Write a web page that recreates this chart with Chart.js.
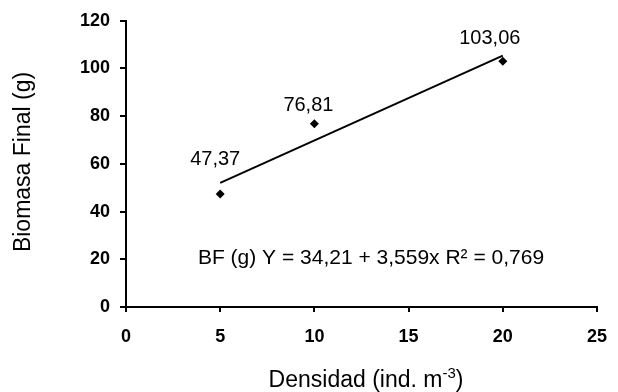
<!DOCTYPE html>
<html>
<head>
<meta charset="utf-8">
<script src="https://cdn.jsdelivr.net/npm/chart.js@4"></script>
<style>
  body { margin: 0; background: #fff; }
  canvas { display: block; }
</style>
</head>
<body>
<canvas id="grafica" width="618" height="392"></canvas>
<script>
const densidad = [5, 10, 20]
const biomasa = [47.37, 76.81, 103.06]
const etiquetas = ['47,37', '76,81', '103,06']
const tendenciaX = [5, 20]
const tendenciaY = [52.01, 105.39]
const ecuacion = 'BF (g) Y = 34,21 + 3,559x R² = 0,769'
const ticksX = [0, 5, 10, 15, 20, 25]
const ticksY = [0, 20, 40, 60, 80, 100, 120]

// desplazamiento de cada etiqueta respecto a su punto (px)
const desplazEtiquetas = [[-5, -29], [-6, -13], [-13, -17]]

const fuente = '"Liberation Sans", Arial, sans-serif'

const textosExtra = {
    id: 'textosExtra',
    afterDatasetsDraw(chart) {
        const { ctx, chartArea, scales } = chart
        ctx.save()
        ctx.fillStyle = '#000'
        ctx.textAlign = 'center'
        ctx.textBaseline = 'alphabetic'

        // etiquetas de los puntos
        ctx.font = '20px ' + fuente
        densidad.forEach((d, i) => {
            const px = scales.x.getPixelForValue(d) + desplazEtiquetas[i][0]
            const py = scales.y.getPixelForValue(biomasa[i]) + desplazEtiquetas[i][1]
            ctx.fillText(etiquetas[i], px, py)
        })

        // ecuacion de la regresion
        ctx.font = '21px ' + fuente
        ctx.fillText(ecuacion, 371, chartArea.bottom - 43)

        // titulo eje x con superindice
        ctx.font = '23px ' + fuente
        const base = 'Densidad (ind. m'
        const sup = '-3'
        const cierre = ')'
        const wBase = ctx.measureText(base).width
        const wCierre = ctx.measureText(cierre).width
        ctx.font = '15px ' + fuente
        const wSup = ctx.measureText(sup).width
        const total = wBase + wSup + wCierre
        let x0 = 366 - total / 2
        const yBase = 387
        ctx.textAlign = 'left'
        ctx.font = '23px ' + fuente
        ctx.fillText(base, x0, yBase)
        ctx.font = '15px ' + fuente
        ctx.fillText(sup, x0 + wBase, yBase - 9)
        ctx.font = '23px ' + fuente
        ctx.fillText(cierre, x0 + wBase + wSup, yBase)

        // titulo eje y
        ctx.translate(30, 162)
        ctx.rotate(-Math.PI / 2)
        ctx.textAlign = 'center'
        ctx.fillText('Biomasa Final (g)', 0, 0)
        ctx.restore()
    }
}

new Chart(document.getElementById('grafica'), {
    type: 'scatter',
    data: {
        datasets: [
            {
                label: 'Biomasa',
                data: densidad.map((d, i) => ({ x: d, y: biomasa[i] })),
                pointStyle: 'rectRot',
                pointRadius: 4.5,
                backgroundColor: '#000',
                borderColor: '#000',
                borderWidth: 0
            },
            {
                type: 'line',
                label: 'Tendencia',
                data: tendenciaX.map((d, i) => ({ x: d, y: tendenciaY[i] })),
                borderColor: '#000',
                borderWidth: 2,
                pointRadius: 0,
                fill: false
            }
        ]
    },
    options: {
        responsive: false,
        animation: false,
        layout: { padding: { left: 0, top: 19, right: 21, bottom: 0 } },
        plugins: {
            legend: { display: false },
            tooltip: { enabled: false }
        },
        scales: {
            x: {
                type: 'linear',
                min: 0,
                max: 25,
                afterBuildTicks: s => { s.ticks = ticksX.map(v => ({ value: v })) },
                afterFit: s => { s.height = 85 },
                grid: { drawOnChartArea: false, drawTicks: true, tickLength: 5, color: '#000', lineWidth: 2 },
                border: { color: '#000', width: 2 },
                ticks: { color: '#000', padding: 10, font: { family: fuente, size: 18, weight: 'bold', lineHeight: 1.65 } }
            },
            y: {
                min: 0,
                max: 120,
                afterBuildTicks: s => { s.ticks = ticksY.map(v => ({ value: v })) },
                afterFit: s => { s.width = 126 },
                grid: { drawOnChartArea: false, drawTicks: true, tickLength: 6, color: '#000', lineWidth: 2 },
                border: { color: '#000', width: 2 },
                ticks: { color: '#000', padding: 10, font: { family: fuente, size: 18, weight: 'bold' } }
            }
        }
    },
    plugins: [textosExtra]
})
</script>
</body>
</html>
